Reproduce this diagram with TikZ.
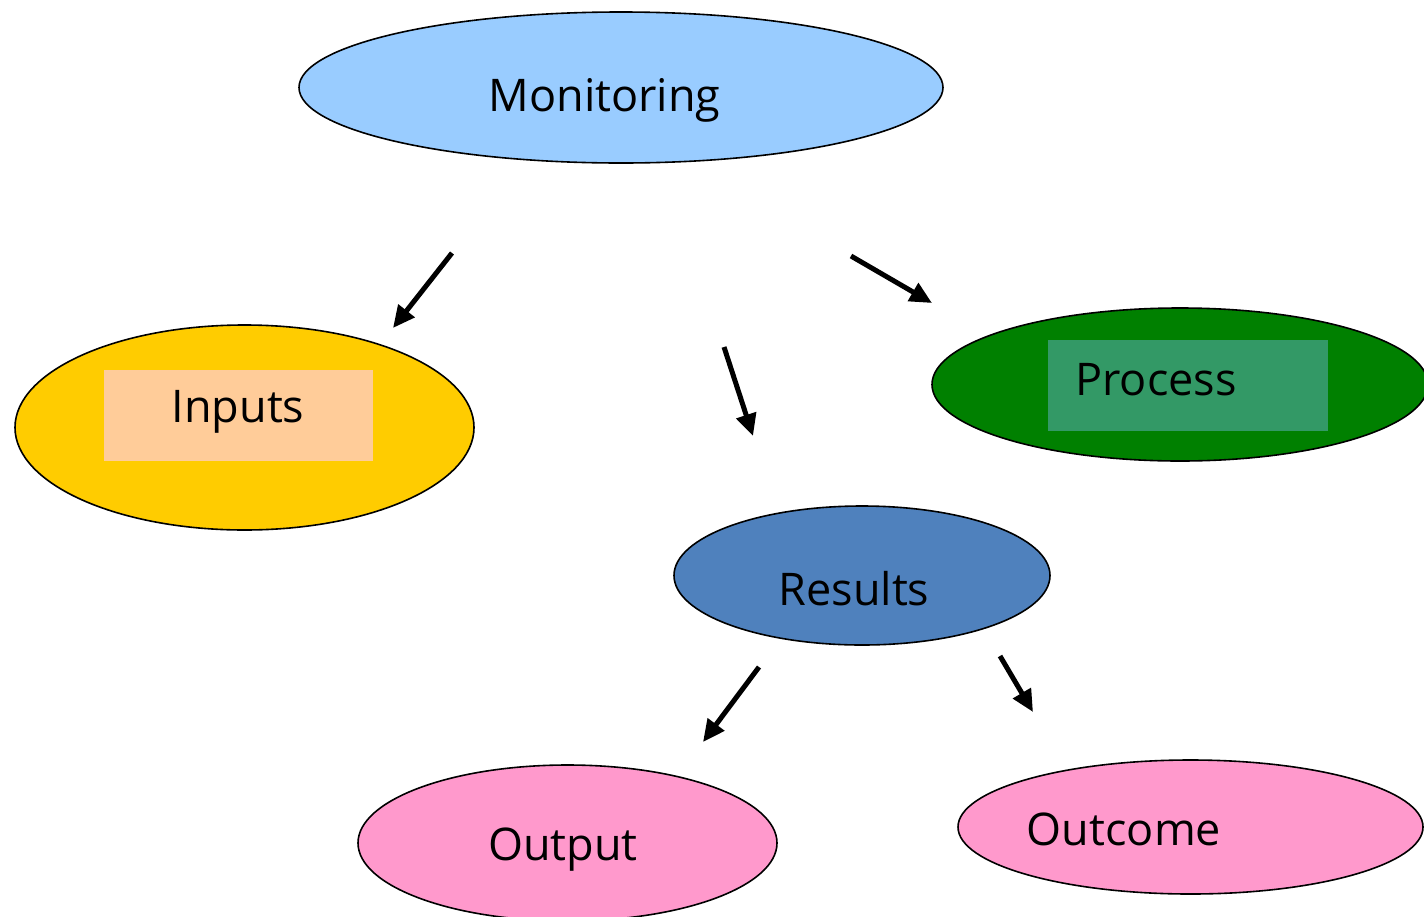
\documentclass[tikz,border=0pt]{standalone}
\usepackage{fontspec}
\setmainfont{Open Sans}
\usetikzlibrary{shapes.geometric,arrows.meta}
\tikzset{
  blob/.style={ellipse, draw=black, line width=1.6pt, inner sep=0pt},
  panel/.style={rectangle, draw=none, inner sep=0pt},
  word/.style={anchor=base, inner sep=0pt, font=\fontsize{45}{50}\selectfont},
  flow/.style={line width=5pt, -{Triangle[length=22pt,width=20pt]}}
}
\begin{document}
\begin{tikzpicture}[x=1pt,y=-1pt]
\useasboundingbox (0,0) rectangle (1424,916);
% ovals
\node[blob, fill={rgb,255:red,153;green,204;blue,255}, minimum width=644pt, minimum height=151pt] (mon) at (621,87.5) {};
\node[blob, fill={rgb,255:red,255;green,204;blue,0}, minimum width=459pt, minimum height=205pt] (inp) at (244.5,427.5) {};
\node[blob, fill={rgb,255:red,0;green,128;blue,0}, minimum width=496pt, minimum height=153pt] (pro) at (1180,384.5) {};
\node[blob, fill={rgb,255:red,79;green,129;blue,189}, minimum width=376pt, minimum height=139pt] (res) at (862,575.5) {};
\node[blob, fill={rgb,255:red,255;green,153;blue,204}, minimum width=419pt, minimum height=156pt] (out) at (567.5,843) {};
\node[blob, fill={rgb,255:red,255;green,153;blue,204}, minimum width=465pt, minimum height=134pt] (oc) at (1190.5,827) {};
% inner panels
\node[panel, fill={rgb,255:red,255;green,204;blue,153}, minimum width=269pt, minimum height=91pt] (inpbox) at (238.5,415.5) {};
\node[panel, fill={rgb,255:red,51;green,153;blue,102}, minimum width=280pt, minimum height=91pt] (probox) at (1188,385.5) {};
% labels
\node[word] (tmon) at (604.5,111) {Monitoring};
\node[word] (tinp) at (238,422) {Inputs};
\node[word] (tpro) at (1156,395) {Process};
\node[word] (tres) at (854,605) {Results};
\node[word] (tout) at (563,860) {Output};
\node[word] (toc) at (1124,845) {Outcome};
% arrows
\coordinate (a1s) at (452,253); \coordinate (a1e) at (393,328);
\coordinate (a2s) at (724,347); \coordinate (a2e) at (753,436);
\coordinate (a3s) at (851,256); \coordinate (a3e) at (932,303);
\coordinate (a4s) at (759,667); \coordinate (a4e) at (703,742);
\coordinate (a5s) at (1000,656); \coordinate (a5e) at (1033,712);
\draw[flow] (a1s) -- (a1e);
\draw[flow] (a2s) -- (a2e);
\draw[flow] (a3s) -- (a3e);
\draw[flow] (a4s) -- (a4e);
\draw[flow] (a5s) -- (a5e);
\end{tikzpicture}
\end{document}
